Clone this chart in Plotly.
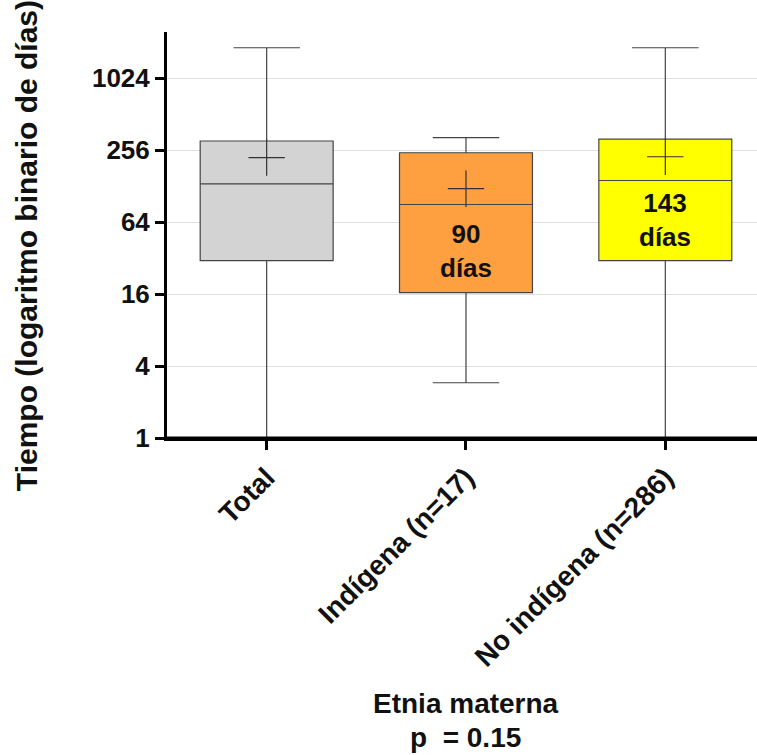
import plotly.graph_objects as go
import math

categories = ["Total", "Indígena (n=17)", "No indígena (n=286)"]
lower_whisker = [1, 2.9, 1]
q1 = [30.5, 16.5, 30.5]
median = [134, 90, 143]
q3 = [306, 244, 317]
upper_whisker = [1845, 326, 1845]
means = [222, 122, 226]
box_colors = ["#D3D3D3", "#FFA040", "#FFFF00"]
median_labels = [None, "90<br>días", "143<br>días"]
label_shift = [0, -46, -40]
ytick_vals = [1, 4, 16, 64, 256, 1024]
ytick_text = ["1", "4", "16", "64", "256", "1024"]
x_title = "Etnia materna"
p_text = "p\u00a0 = 0.15"

FONT = "Liberation Sans, Arial, sans-serif"

fig = go.Figure()
for i, cat in enumerate(categories):
    fig.add_trace(go.Box(
        x=[cat], q1=[q1[i]], median=[median[i]], q3=[q3[i]],
        lowerfence=[lower_whisker[i]], upperfence=[upper_whisker[i]],
        fillcolor=box_colors[i], line=dict(color="#444444", width=1.2),
        width=0.667, whiskerwidth=0.5, boxpoints=False, showlegend=False,
        hoverinfo="skip",
    ))

fig.add_trace(go.Scatter(
    x=categories, y=means, mode="markers",
    marker=dict(symbol="cross-thin", size=26, line=dict(color="#333333", width=1.2)),
    showlegend=False, hoverinfo="skip",
))

for i, lab in enumerate(median_labels):
    if lab:
        fig.add_annotation(
            x=categories[i], y=math.log10(median[i]), xref="x", yref="y",
            text=lab, showarrow=False, yanchor="middle", yshift=label_shift[i],
            font=dict(family=FONT, size=26, color="#111111", weight="bold"),
        )

# Y axis title
fig.add_annotation(
    xref="paper", yref="paper", x=-0.237, y=0.473,
    text="Tiempo (logaritmo binario de días)", textangle=-90, showarrow=False,
    xanchor="center", yanchor="middle",
    font=dict(family=FONT, size=30, color="#111111", weight="bold"),
)
# X axis title (two lines)
fig.add_annotation(
    xref="x", yref="paper", x=categories[1], y=(438 - 703) / 406,
    text=x_title, showarrow=False, xanchor="center", yanchor="middle",
    font=dict(family=FONT, size=28, color="#111111", weight="bold"),
)
fig.add_annotation(
    xref="x", yref="paper", x=categories[1], y=(438 - 737) / 406,
    text=p_text, showarrow=False, xanchor="center", yanchor="middle",
    font=dict(family=FONT, size=28, color="#111111", weight="bold"),
)

# bottom axis line drawn over the plot edge (covers whisker caps at the baseline)
fig.add_shape(type="line", xref="paper", yref="paper", x0=0, x1=1, y0=0, y1=0,
              line=dict(color="black", width=3), layer="above")

fig.update_layout(
    width=757, height=755,
    margin=dict(l=167, r=0, t=32, b=317),
    paper_bgcolor="white", plot_bgcolor="white",
    boxmode="overlay",
    font=dict(family=FONT, color="#111111"),
)
fig.update_xaxes(
    type="category", categoryorder="array", categoryarray=categories,
    range=[-0.5, 2.46], layer="above traces",
    showline=True, linecolor="black", linewidth=3,
    ticks="outside", ticklen=9, tickwidth=3, tickcolor="black",
    tickangle=-45, showgrid=False,
    tickfont=dict(family=FONT, size=28, color="#111111", weight="bold"),
)
fig.update_yaxes(
    type="log", range=[0, 3.398], layer="above traces",
    tickvals=ytick_vals, ticktext=ytick_text,
    showline=True, linecolor="black", linewidth=3,
    ticks="outside", ticklen=9, tickwidth=3, tickcolor="black",
    showgrid=True, gridcolor="#E0E0E0", gridwidth=1, zeroline=False,
    tickfont=dict(family=FONT, size=26, color="#111111", weight="bold"),
)

fig.write_html("out.html")
